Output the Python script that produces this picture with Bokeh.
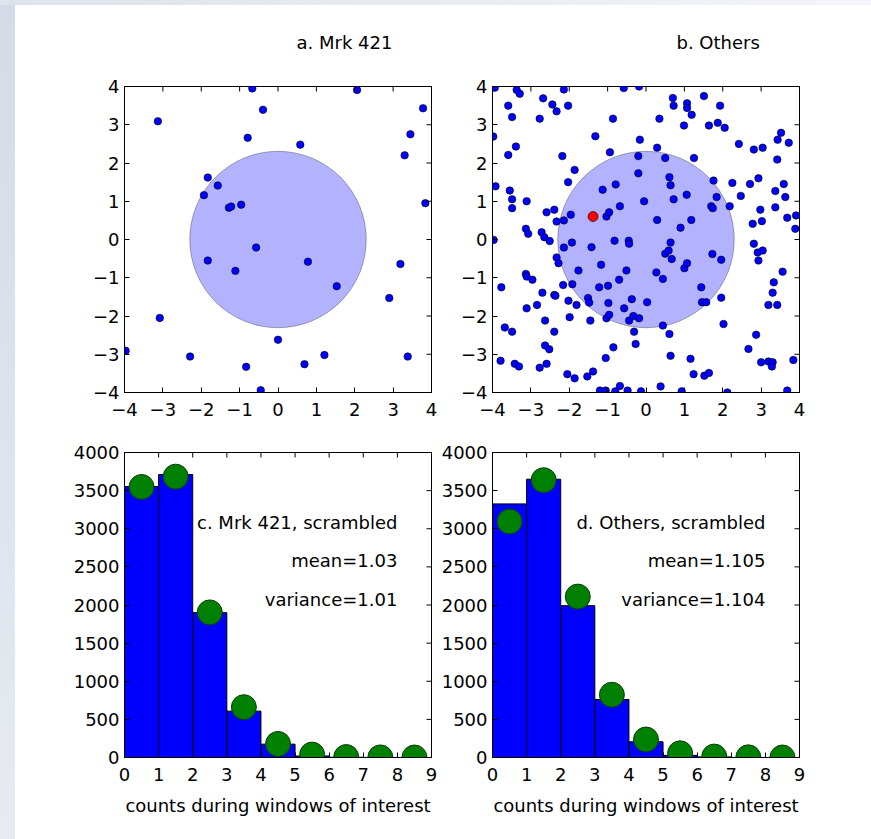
import math
from bokeh.plotting import figure
from bokeh.layouts import row, column
from bokeh.models import Range1d, FixedTicker, Title, GlobalInlineStyleSheet
from bokeh.core.properties import value
from bokeh.embed import file_html
from bokeh.resources import INLINE

# ---------------- data ----------------
mrk_x = [-0.67, 2.06, 3.78, -3.13, -0.39, 3.45, -0.79, 0.58, 3.30, -1.83, -1.57, -1.93,
         3.84, -0.96, -1.28, -1.22, -0.57, -1.83, 0.78, -1.11, 3.19, 1.53, 2.90, -3.08,
         0.00, -3.97, -2.29, 1.21, 3.38, -0.83, 0.69, -0.45]
mrk_y = [3.95, 3.91, 3.43, 3.09, 3.39, 2.75, 2.66, 2.48, 2.20, 1.62, 1.41, 1.16,
         0.95, 0.91, 0.83, 0.86, -0.21, -0.55, -0.58, -0.82, -0.64, -1.22, -1.53, -2.05,
         -2.62, -2.91, -3.06, -3.02, -3.06, -3.33, -3.26, -3.94]

oth_x = [-3.94, -3.37, -3.29, -2.14, -0.58, -0.18, -3.59, -2.68, -2.44, -2.33, -2.03, -3.49,
         -2.77, -0.86, -3.98, -1.32, -0.16, -3.39, -3.59, -2.18, -0.94, -0.20, -1.86, -0.20,
         -2.03, -3.92, -3.55, -3.49, -3.49, -3.11, -1.13, -0.79, -0.05, -0.68, -2.59, -2.39,
         -2.33, -2.14, -1.96, -1.03, -0.96, -3.13, -3.07, -2.72, -2.65, -2.51, -3.97,
         0.70, 0.72, 1.07, 1.07, 1.19, 1.51, 1.93, 0.35, 0.99, 1.64, 1.87, 2.05,
         3.52, 3.43, 3.72, 2.42, 2.81, 3.04, 3.42, 0.29, 0.50, 1.25, 0.61, 0.64,
         1.76, 2.25, 2.71, 2.93, 3.59, 3.37, 3.63, 1.06, 0.72, 1.84, 2.47, 1.70,
         1.74, 2.18, 2.98, 3.37, 3.68, 3.91, 3.89, 0.29, 0.90, 1.18, 2.78, 3.02,
         -2.14, -1.93, -1.42, -0.82, -0.45, -0.44, -2.33, -2.28, -1.76, -1.17, -0.51, -3.13,
         -3.11, -2.96, -0.70, -3.77, -2.16, -1.92, -1.22, -0.99, -2.70, -2.39, -2.36, -2.02,
         -1.81, -1.51, -1.48, -0.98, -0.37, 0.03, -3.11, -2.84, -0.57, -1.99, -1.45, -1.03,
         -0.96, -0.33, -0.44, -0.18, -3.68, -3.49, -2.63, -2.39, -0.31, -0.27, -2.63, -2.52,
         -0.85, -1.05, -3.79, -3.42, -3.31, -2.77, -2.59, -2.05, -1.86, -1.53, -1.38, -1.20,
         -1.05, -0.68, -0.80, -0.48, -0.13,
         0.64, 0.50, 0.59, 0.67, 0.27, 0.44, 1.00, 1.07, 1.73, 1.96, 1.44, 1.46,
         1.57, 1.96, 0.44, 0.61, 2.02, 0.64, 1.16, 1.24, 1.52, 1.64, 0.38, 0.93,
         2.12, 2.81, 2.91, 3.04, 2.93, 3.56, 3.33, 3.30, 3.19, 3.42, 2.87, 2.67,
         3.00, 3.19, 3.30, 3.28, 3.84, 3.68]
oth_y = [3.97, 3.91, 3.81, 3.92, 3.96, 4.00, 3.50, 3.69, 3.53, 3.35, 3.50, 3.20,
         3.16, 3.16, 2.69, 2.70, 2.61, 2.43, 2.21, 2.18, 2.28, 2.18, 1.82, 1.73,
         1.50, 1.39, 1.28, 1.05, 0.82, 1.00, 1.30, 1.44, 1.00, 0.87, 0.71, 0.78,
         0.47, 0.50, 0.65, 0.60, 0.71, 0.28, 0.15, 0.19, 0.06, -0.04, -0.01,
         3.70, 3.50, 3.56, 3.44, 3.26, 3.75, 3.50, 3.16, 2.98, 2.98, 3.05, 2.92,
         2.79, 2.61, 2.53, 2.50, 2.35, 2.40, 2.09, 2.40, 2.13, 2.13, 1.63, 1.42,
         1.54, 1.48, 1.45, 1.60, 1.45, 1.27, 1.11, 1.17, 1.05, 1.11, 1.14, 0.87,
         0.82, 0.87, 0.78, 0.84, 0.57, 0.63, 0.28, 0.51, 0.31, 0.51, 0.41, 0.48,
         -0.21, -0.08, -0.20, -0.03, -0.03, -0.11, -0.47, -0.62, -0.81, -0.66, -0.81, -0.90,
         -0.97, -1.05, -1.05, -1.25, -1.19, -1.17, -1.25, -1.21, -1.39, -1.45, -1.47, -1.60,
         -1.71, -1.53, -1.65, -1.66, -1.56, -1.64, -1.80, -1.71, -1.80, -2.03, -2.12, -2.06,
         -1.97, -2.00, -2.12, -2.06, -2.30, -2.41, -2.12, -2.41, -2.41, -2.73, -2.77, -2.87,
         -2.82, -3.10, -3.17, -3.25, -3.32, -3.35, -3.25, -3.52, -3.63, -3.58, -3.45, -3.95,
         -3.95, -3.83, -3.97, -3.95, -3.97,
         -0.08, -0.37, -0.29, -0.51, -0.86, -1.03, -0.75, -0.62, -0.38, -0.53, -1.25, -1.64,
         -1.64, -1.52, -2.25, -2.47, -2.21, -3.04, -3.12, -3.52, -3.56, -3.49, -3.84, -3.97,
         -4.00, -0.11, -0.34, -0.29, -0.55, -0.84, -1.12, -1.39, -1.71, -1.71, -2.49, -2.86,
         -3.21, -3.19, -3.21, -3.32, -3.15, -3.95]

red_x = [-1.38]
red_y = [0.60]

window_x = [0.0]
window_y = [0.0]
window_r = [2.3]

bin_left = [0, 1, 2, 3, 4, 5, 6, 7, 8]
bin_right = [1, 2, 3, 4, 5, 6, 7, 8, 9]
bin_mid = [0.5, 1.5, 2.5, 3.5, 4.5, 5.5, 6.5, 7.5, 8.5]

mrk_counts = [3553, 3711, 1899, 608, 175, 20, 3, 1, 0]
mrk_expected = [3548, 3683, 1903, 660, 178, 38, 6, 1, 0]
oth_counts = [3326, 3650, 1991, 761, 206, 28, 8, 1, 0]
oth_expected = [3095, 3637, 2110, 823, 236, 55, 12, 2, 0]

mrk_text = ["c. Mrk 421, scrambled", "mean=1.03", "variance=1.01"]
oth_text = ["d. Others, scrambled", "mean=1.105", "variance=1.104"]
text_x = [8, 8, 8]
text_y = [3000, 2500, 2000]

scatter_range = (-4, 4)
hist_x_range = (0, 9)
hist_y_range = (0, 4000)
scatter_ticks = [-4, -3, -2, -1, 0, 1, 2, 3, 4]
scatter_tick_labels = {t: ("\u2212" + str(-t) if t < 0 else str(t)) for t in scatter_ticks}
hist_x_ticks = [0, 1, 2, 3, 4, 5, 6, 7, 8, 9]
hist_y_ticks = [0, 500, 1000, 1500, 2000, 2500, 3000, 3500, 4000]

titles = ["a. Mrk 421", "b. Others"]
xlabel = "counts during windows of interest"

FONT = "DejaVu Sans"
FS = "18px"


def make_fig(xr, yr, left, right, top, bottom, fh):
    p = figure(frame_width=307, frame_height=fh,
               min_border_left=left, min_border_right=right,
               min_border_top=top, min_border_bottom=bottom,
               x_range=Range1d(*xr), y_range=Range1d(*yr),
               output_backend="svg", toolbar_location=None, tools="")
    p.grid.visible = False
    p.border_fill_alpha = 0
    p.background_fill_color = "white"
    p.outline_line_color = "black"
    p.outline_line_width = 1
    return p


def style_axes(p, xr, yr, xticks, yticks, xover=None, yover=None):
    for ax, ticks, over in ((p.xaxis[0], xticks, xover), (p.yaxis[0], yticks, yover)):
        ax.ticker = FixedTicker(ticks=ticks)
        if over:
            ax.major_label_overrides = over
        ax.major_tick_in = 5
        ax.major_tick_out = 0
        ax.minor_tick_line_color = None
        ax.major_tick_line_color = "black"
        ax.axis_line_color = "black"
        ax.major_label_text_font = FONT
        ax.major_label_text_font_size = FS
        ax.major_label_text_color = "black"
    p.xaxis[0].major_label_standoff = 10
    p.yaxis[0].major_label_standoff = 5
    # inward ticks on the top and right edges (half of each dash is clipped by the frame)
    p.scatter(x=xticks, y=[yr[1]] * len(xticks), marker="dash", size=10, angle=math.pi / 2,
              line_color="black", line_width=1)
    p.scatter(x=[xr[1]] * len(yticks), y=yticks, marker="dash", size=10,
              line_color="black", line_width=1)


def title_for(p, text, offset):
    p.add_layout(Title(text=text, align="left", offset=offset, standoff=63,
                       vertical_align="top",
                       text_font=FONT, text_font_size=FS, text_font_style="normal",
                       text_color="black"), "above")


# ---- a: Mrk 421 scatter ----
pa = make_fig(scatter_range, scatter_range, 124, 7, 86, 30, 306)
pa.circle(x=window_x, y=window_y, radius=window_r, fill_color="blue", fill_alpha=0.3,
          line_color="black", line_alpha=0.3, line_width=1)
pa.scatter(mrk_x, mrk_y, size=7.5, fill_color="blue", line_color="black", line_width=0.6)
style_axes(pa, scatter_range, scatter_range, scatter_ticks, scatter_ticks,
           scatter_tick_labels, scatter_tick_labels)
title_for(pa, titles[0], 172)

# ---- b: Others scatter ----
pb = make_fig(scatter_range, scatter_range, 54, 72, 86, 30, 306)
pb.circle(x=window_x, y=window_y, radius=window_r, fill_color="blue", fill_alpha=0.3,
          line_color="black", line_alpha=0.3, line_width=1)
pb.scatter(oth_x, oth_y, size=7.5, fill_color="blue", line_color="black", line_width=0.6)
pb.scatter(red_x, red_y, size=10, fill_color="red", line_color="black", line_width=0.6)
style_axes(pb, scatter_range, scatter_range, scatter_ticks, scatter_ticks,
           scatter_tick_labels, scatter_tick_labels)
title_for(pb, titles[1], 184)


def hist_panel(left, right, counts, expected, texts):
    p = make_fig(hist_x_range, hist_y_range, left, right, 30, 82, 305)
    p.quad(left=bin_left, right=bin_right, bottom=0, top=counts,
           fill_color="blue", line_color="black", line_width=1)
    p.scatter(bin_mid, expected, size=25, fill_color="green", line_color="#0b3d0b",
              line_width=1)
    p.text(x=text_x, y=text_y, text=texts, text_align="right", text_baseline="alphabetic",
           y_offset=-6, text_font=value(FONT), text_font_size=FS, text_color="black")
    style_axes(p, hist_x_range, hist_y_range, hist_x_ticks, hist_y_ticks)
    ax = p.below[0]
    ax.axis_label = xlabel
    ax.axis_label_text_font = FONT
    ax.axis_label_text_font_size = FS
    ax.axis_label_text_font_style = "normal"
    ax.axis_label_text_color = "black"
    ax.axis_label_standoff = 11
    return p


pc = hist_panel(124, 7, mrk_counts, mrk_expected, mrk_text)
pd_ = hist_panel(54, 72, oth_counts, oth_expected, oth_text)

sheet = GlobalInlineStyleSheet(css="html, body {margin:0 !important; padding:0 !important; "
                                   "background:#ffffff; overflow:hidden;}")

layout = column(row(pa, pb, spacing=0), row(pc, pd_, spacing=0), spacing=0,
                stylesheets=[sheet],
                styles={"background-color": "#ffffff",
                        "background-image": "linear-gradient(to right, #dde3eb, #f3f5f8), "
                                            "linear-gradient(to bottom, #d3dbe6, #e6ebf1)",
                        "background-size": "100% 5px, 15px 100%",
                        "background-repeat": "no-repeat"})

open("out.html", "w").write(file_html(layout, INLINE))
